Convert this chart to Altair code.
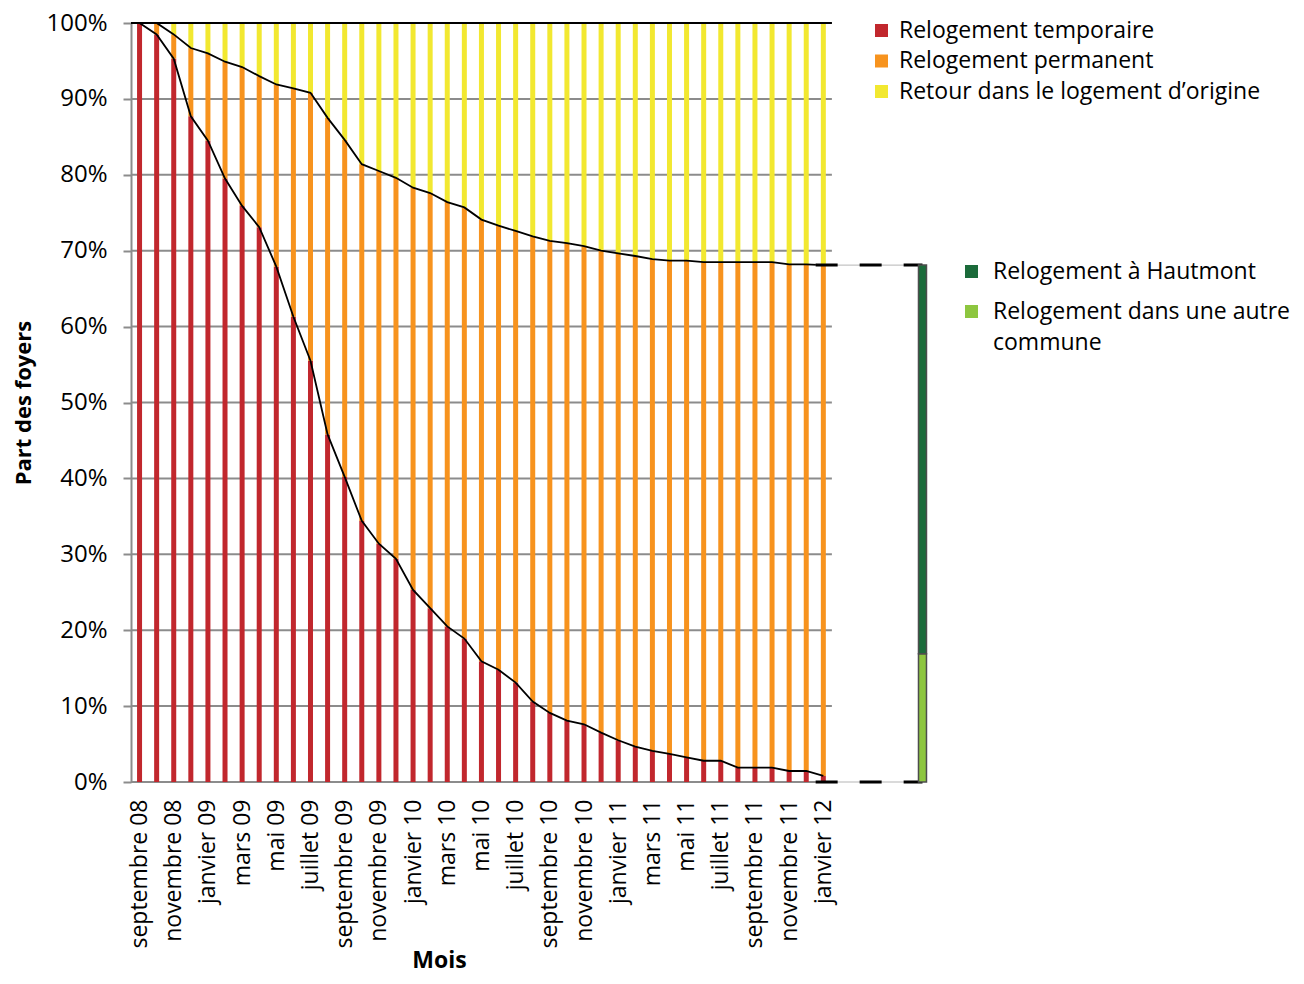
import json
import altair as alt
import pandas as pd

# ---------------- data ----------------
MONTHS = [
    "septembre 08", "octobre 08", "novembre 08", "décembre 08",
    "janvier 09", "février 09", "mars 09", "avril 09", "mai 09", "juin 09",
    "juillet 09", "août 09", "septembre 09", "octobre 09", "novembre 09", "décembre 09",
    "janvier 10", "février 10", "mars 10", "avril 10", "mai 10", "juin 10",
    "juillet 10", "août 10", "septembre 10", "octobre 10", "novembre 10", "décembre 10",
    "janvier 11", "février 11", "mars 11", "avril 11", "mai 11", "juin 11",
    "juillet 11", "août 11", "septembre 11", "octobre 11", "novembre 11", "décembre 11",
    "janvier 12",
]

# share of households still in temporary housing (top of the red part), %
TEMPORAIRE = [
    100, 98.5, 95.3, 87.7, 84.5, 79.5, 75.9, 73.1, 67.9, 61.3,
    55.5, 45.8, 40.2, 34.4, 31.4, 29.4, 25.3, 22.9, 20.5, 18.9,
    15.9, 14.8, 13.1, 10.6, 9.1, 8.1, 7.6, 6.5, 5.5, 4.65,
    4.1, 3.7, 3.25, 2.8, 2.8, 1.9, 1.9, 1.9, 1.45, 1.45,
    0.8,
]

# temporary + permanent rehousing (top of the orange part), %
TEMP_PLUS_PERMANENT = [
    100, 100, 98.5, 96.7, 96.0, 94.9, 94.2, 93.0, 91.9, 91.4,
    90.8, 87.5, 84.6, 81.4, 80.5, 79.6, 78.3, 77.6, 76.4, 75.7,
    74.1, 73.3, 72.6, 71.9, 71.3, 71.0, 70.6, 70.0, 69.65, 69.3,
    68.9, 68.7, 68.7, 68.5, 68.5, 68.5, 68.5, 68.5, 68.2, 68.2,
    68.1,
]

TOTAL = 100

CATS = ["Relogement temporaire", "Relogement permanent", "Retour dans le logement d’origine"]
CAT_COLORS = ["#C1272D", "#F7931E", "#F2E830"]

# breakdown of permanent rehousing in the last month (right-hand bar), % of households
COMMUNE_CATS = ["Relogement à Hautmont", "Relogement dans une autre commune"]
COMMUNE_VALUES = [51.2, 16.9]
COMMUNE_COLORS = ["#1B6B3A", "#8DC63F"]

RIGHT_BAR_POS = 45.8      # position of the breakdown bar on the month axis
LINK_START = 39.55        # where the dashed connectors start
GRID_VALUES = list(range(0, 101, 10))

# ---------------- build tables ----------------
n = len(MONTHS)
rows = []
for i in range(n):
    t, c = TEMPORAIRE[i], TEMP_PLUS_PERMANENT[i]
    rows.append({"idx": i, "cat": CATS[0], "y0": 0, "y1": t})
    rows.append({"idx": i, "cat": CATS[1], "y0": t, "y1": c})
    rows.append({"idx": i, "cat": CATS[2], "y0": c, "y1": TOTAL})
bars_df = pd.DataFrame(rows)

lines_df = pd.DataFrame(
    [{"idx": i, "serie": "temp", "v": TEMPORAIRE[i]} for i in range(n)]
    + [{"idx": i, "serie": "perm", "v": TEMP_PLUS_PERMANENT[i]} for i in range(n)]
)

# right bar: "autre commune" at the bottom, Hautmont on top
right_rows = []
base = 0
for cat, val in zip(reversed(COMMUNE_CATS), reversed(COMMUNE_VALUES)):
    right_rows.append({"pos": RIGHT_BAR_POS, "cat2": cat, "y0": base, "y1": base + val})
    base += val
right_df = pd.DataFrame(right_rows)

link_df = pd.DataFrame({
    "xa": [LINK_START, LINK_START],
    "xb": [RIGHT_BAR_POS, RIGHT_BAR_POS],
    "y": [TEMP_PLUS_PERMANENT[-1], 0],
})

grid_df = pd.DataFrame({"y": GRID_VALUES, "xa": -0.5, "xb": n - 0.5})
top_df = pd.DataFrame({"y": [TOTAL], "xa": [-0.5], "xb": [n - 0.5]})

# ---------------- scales & axes ----------------
xscale = alt.Scale(domain=[-0.5, 47], nice=False, zero=False, padding=0)
yscale = alt.Scale(domain=[0, 100], nice=False, padding=0)

label_expr = json.dumps(MONTHS, ensure_ascii=False) + "[datum.value]"
xaxis = alt.Axis(
    values=list(range(0, n, 2)), labelExpr=label_expr, labelAngle=270,
    labelFontSize=23, labelColor="black", labelPadding=17, ticks=False,
    domain=False, grid=False, labelFlush=False, labelOverlap=False,
    title="Mois", titleFontSize=23, titleFontWeight="bold", titleColor="black",
    titleX=308, titleY=185, titleBaseline="alphabetic", titleAnchor="middle",
)
yaxis = alt.Axis(
    values=GRID_VALUES, labelExpr="datum.value + '%'", labelFontSize=24,
    labelColor="black", labelPadding=16, tickSize=8, tickWidth=2, tickColor="#8c8c8c",
    domainColor="#8c8c8c", domainWidth=2, grid=False,
    title="Part des foyers", titleFontSize=22, titleFontWeight="bold",
    titleColor="black", titlePadding=10,
)


def X(field):
    return alt.X(field, type="quantitative", scale=xscale, axis=xaxis)


def Y(field):
    return alt.Y(field, type="quantitative", scale=yscale, axis=yaxis)


grid = alt.Chart(grid_df).mark_rule(color="#8c8c8c", strokeWidth=2).encode(
    x=X("xa"), x2="xb", y=Y("y")
)

bars = alt.Chart(bars_df).mark_bar(size=5).encode(
    x=X("idx"), y=Y("y0"), y2="y1",
    color=alt.Color(
        "cat:N", scale=alt.Scale(domain=CATS, range=CAT_COLORS),
        legend=alt.Legend(
            title=None, orient="none", legendX=739, legendY=-4,
            symbolType="square", symbolSize=169, symbolStrokeWidth=0,
            labelFontSize=23, labelColor="black", labelOffset=6,
            rowPadding=6.5, padding=0, labelLimit=500,
        ),
    ),
)

top_line = alt.Chart(top_df).mark_rule(color="black", strokeWidth=2).encode(
    x=X("xa"), x2="xb", y=Y("y")
)

lines = alt.Chart(lines_df).mark_line(color="black", strokeWidth=1.8).encode(
    x=X("idx"), y=Y("v"), detail="serie:N"
)

link_grey = alt.Chart(link_df).mark_rule(color="#b5b5b5", strokeWidth=1).encode(
    x=X("xa"), x2="xb", y=Y("y")
)
link_dash = alt.Chart(link_df).mark_rule(
    color="black", strokeWidth=3, strokeDash=[22, 22]
).encode(x=X("xa"), x2="xb", y=Y("y"))

right_bar = alt.Chart(right_df).mark_bar(
    size=8, stroke="#4d4d4d", strokeWidth=1.5
).encode(
    x=X("pos"), y=Y("y0"), y2="y1",
    color=alt.Color(
        "cat2:N", scale=alt.Scale(domain=COMMUNE_CATS, range=COMMUNE_COLORS),
        legend=alt.Legend(
            title=None, orient="none", legendX=829, legendY=237,
            symbolType="square", symbolSize=169, symbolStrokeWidth=0,
            labelFontSize=23, labelColor="black", labelOffset=10,
            rowPadding=16, padding=0, labelLimit=500,
            labelExpr="datum.label == 'Relogement dans une autre commune' ? "
                      "['Relogement dans une autre', 'commune'] : datum.label",
        ),
    ),
)

chart = (
    alt.layer(grid, bars, top_line, lines, link_grey, link_dash, right_bar)
    .resolve_scale(color="independent")
    .properties(
        width=812, height=759,
        autosize=alt.AutoSizeParams(type="none"),
        padding={"left": 123, "top": 15, "right": 353, "bottom": 194},
    )
    .configure(font="Open Sans", style={"guide-label": {"lineHeight": 31}})
    .configure_view(stroke=None)
)

chart.save("out.html", embed_options={"renderer": "svg", "actions": False})
